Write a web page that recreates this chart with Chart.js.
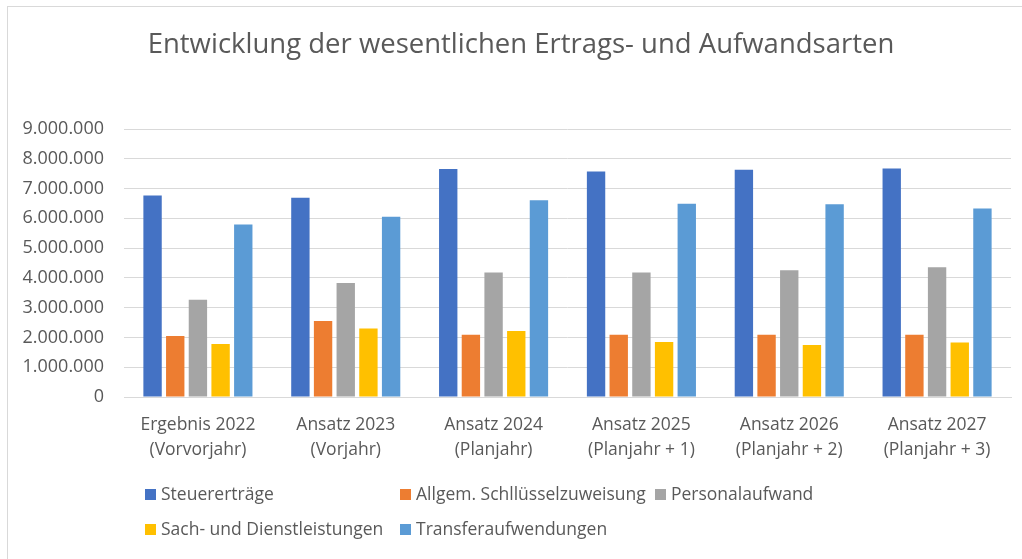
<!DOCTYPE html>
<html lang="de">
<head>
<meta charset="UTF-8">
<title>Entwicklung der wesentlichen Ertrags- und Aufwandsarten</title>
<script src="https://cdn.jsdelivr.net/npm/chart.js"></script>
<style>
  html, body { margin: 0; padding: 0; background: #fff; overflow: hidden; }
  #frame { position: absolute; left: 7px; top: 6px; width: 1100px; height: 700px; border: 1px solid #d9d9d9; }
  #wrap { position: absolute; left: 0; top: 0; width: 1022px; height: 559px; }
</style>
</head>
<body>
<div id="frame"></div>
<div id="wrap"><canvas id="chart"></canvas></div>
<script>
// Daten
const categories = [
  ['Ergebnis 2022', '(Vorvorjahr)'],
  ['Ansatz 2023', '(Vorjahr)'],
  ['Ansatz 2024', '(Planjahr)'],
  ['Ansatz 2025', '(Planjahr + 1)'],
  ['Ansatz 2026', '(Planjahr + 2)'],
  ['Ansatz 2027', '(Planjahr + 3)']
];
const seriesNames = ['Steuererträge', 'Allgem. Schllüsselzuweisung', 'Personalaufwand', 'Sach- und Dienstleistungen', 'Transferaufwendungen'];
const steuerertraege     = [6770000, 6690000, 7660000, 7570000, 7630000, 7670000];
const schluesselzuw      = [2050000, 2550000, 2090000, 2090000, 2090000, 2090000];
const personalaufwand    = [3270000, 3830000, 4180000, 4180000, 4260000, 4360000];
const sachDienst         = [1780000, 2300000, 2220000, 1850000, 1750000, 1830000];
const transferaufw       = [5790000, 6050000, 6610000, 6490000, 6470000, 6330000];
const yTicks = [0, 1000000, 2000000, 3000000, 4000000, 5000000, 6000000, 7000000, 8000000, 9000000];

const colors = ['#4472C4', '#ED7D31', '#A5A5A5', '#FFC000', '#5B9BD5'];
const textColor = '#595959';
const fontFamily = '"Open Sans", "Noto Sans", sans-serif';

function fmt(v) {
  return String(Math.round(v)).replace(/\B(?=(\d{3})+(?!\d))/g, '.');
}

const seriesValues = [steuerertraege, schluesselzuw, personalaufwand, sachDienst, transferaufw];

// Titel etwas nach rechts (Excel zentriert über dem Rahmen, nicht über dem Canvas)
const titleShift = {
  id: 'titleShift',
  afterLayout(chart) {
    const t = chart.titleBlock;
    if (t) { t.left = 31; t.right = 1011; }
  }
};

// Legende wie in Excel: zwei Zeilen, Spalten bei 145 / 400
const legendSlots = [
  { x: 145, y: 495 }, { x: 400, y: 495 }, { x: 655, y: 495 },
  { x: 145, y: 530 }, { x: 400, y: 530 }
];
const excelLegend = {
  id: 'excelLegend',
  afterDraw(chart) {
    const ctx = chart.ctx;
    ctx.save();
    ctx.font = '17.5px ' + fontFamily;
    ctx.textBaseline = 'middle';
    let prevEnd = 0;
    chart.data.datasets.forEach((ds, i) => {
      const s = legendSlots[i];
      let x = s.x;
      // gleiche Zeile: nicht mit vorigem Eintrag überlappen
      if (i > 0 && legendSlots[i - 1].y === s.y) x = Math.max(x, prevEnd + 8);
      ctx.fillStyle = ds.backgroundColor;
      ctx.fillRect(x, s.y - 6, 11, 11);
      ctx.fillStyle = textColor;
      ctx.fillText(ds.label, x + 16, s.y);
      prevEnd = x + 16 + ctx.measureText(ds.label).width;
    });
    ctx.restore();
  }
};

new Chart(document.getElementById('chart'), {
  type: 'bar',
  data: {
    labels: categories,
    datasets: seriesNames.map((name, i) => ({
      label: name,
      data: seriesValues[i],
      backgroundColor: colors[i],
      borderWidth: 0,
      categoryPercentage: 0.767,
      barPercentage: 0.81
    }))
  },
  options: {
    responsive: true,
    maintainAspectRatio: false,
    animation: false,
    layout: { padding: { left: 0, right: 11, top: 0, bottom: 92 } },
    plugins: {
      legend: { display: false },
      tooltip: { enabled: false },
      title: {
        display: true,
        text: 'Entwicklung der wesentlichen Ertrags- und Aufwandsarten',
        color: textColor,
        font: { family: fontFamily, size: 27.5, weight: 'normal', lineHeight: 1.2 },
        padding: { top: 29, bottom: 67 }
      }
    },
    scales: {
      x: {
        grid: { display: false, drawTicks: false },
        border: { display: true, color: '#d9d9d9', width: 1 },
        ticks: {
          color: textColor,
          padding: 16,
          maxRotation: 0,
          font: { family: fontFamily, size: 17.5, lineHeight: 1.4 }
        },
        afterFit(scale) { scale.height = 70; }
      },
      y: {
        min: 0,
        max: 9000000,
        afterBuildTicks(scale) { scale.ticks = yTicks.map(v => ({ value: v })); },
        grid: { color: '#d9d9d9', lineWidth: 1, drawTicks: false },
        border: { display: false },
        ticks: {
          color: textColor,
          padding: 20,
          font: { family: fontFamily, size: 18 },
          callback: v => fmt(v)
        },
        afterFit(scale) { scale.width = 124; }
      }
    }
  },
  plugins: [titleShift, excelLegend]
});
</script>
</body>
</html>
